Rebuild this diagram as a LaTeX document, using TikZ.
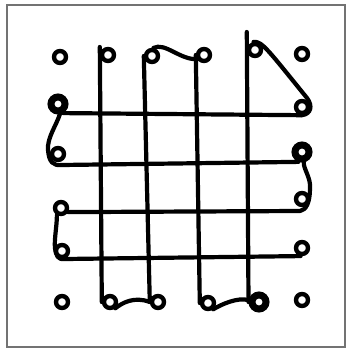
\documentclass[tikz,border=0pt]{standalone}
\begin{document}
\begin{tikzpicture}[x=1pt,y=-1pt,
  strand/.style={line width=4.2pt, line cap=round, line join=round},
  loopc/.style={draw, circle, line width=4.4pt, minimum size=12pt, inner sep=0pt},
  bigloop/.style={draw, circle, line width=7pt, minimum size=14pt, inner sep=0pt},
  frame/.style={draw=black!55, line width=1.8pt}]
\useasboundingbox (0,0) rectangle (346,348);
\draw[frame] (7,5) rectangle (345,347);
% loops
\node[loopc] (C00) at (60,57) {};
\node[loopc] (T1) at (108,55) {};
\node[loopc] (T2) at (152,56) {};
\node[loopc] (T3) at (204,55) {};
\node[loopc] (T4) at (255,50) {};
\node[loopc] (C05) at (302,54) {};
\node[bigloop] (R1L) at (58,104) {};
\node[loopc] (R1R) at (302,107) {};
\node[loopc] (R2L) at (58,154) {};
\node[bigloop] (R2R) at (302,152) {};
\node[loopc] (R3L) at (61,208) {};
\node[loopc] (R3R) at (302,199) {};
\node[loopc] (R4L) at (62,251) {};
\node[loopc] (R4R) at (302,248) {};
\node[loopc] (C50) at (62,302) {};
\node[loopc] (B1) at (110,302) {};
\node[loopc] (B2) at (158,302) {};
\node[loopc] (B3) at (208,303) {};
\node[bigloop] (B4) at (259,302) {};
\node[loopc] (C55) at (302,300) {};
% vertical strands
\draw[strand] (T1.west) ++(0,-8) -- (B1.west);
\draw[strand] (T2.west) -- (B2.west);
\draw[strand] (T3.west) -- (B3.west);
\draw[strand] (T4.west) ++(0,-18) -- (B4.west);
% top wave and diagonal
\draw[strand] (T2.80) .. controls (165,42) and (180,60) .. (T3.210);
\draw[strand] (T4.100) .. controls (262,41) and (268,50) .. (307,98)
  .. controls (313,106) and (311,114) .. (R1R.south);
% horizontal strands
\draw[strand] (R1L.-60) -- (R1R.south);
\draw[strand] (R1L.-80) .. controls (56,126) and (47,138) .. (48,150)
  .. controls (49,162) and (53,166) .. (62,165) -- (R2R.-110);
\draw[strand] (R2R.-80) .. controls (303,168) and (311,178) .. (310,188)
  .. controls (310,203) and (306,210) .. (300,211) -- (R3L.-30);
\draw[strand] (R3L.-120) .. controls (57,225) and (54,240) .. (55,248)
  .. controls (56,256) and (58,260) .. (65,259) -- (R4R.-100);
% bottom links
\draw[strand] (B1.-50) .. controls (122,303) and (134,296) .. (B2.180);
\draw[strand] (B3.-50) .. controls (222,304) and (238,297) .. (B4.170);
\end{tikzpicture}
\end{document}
